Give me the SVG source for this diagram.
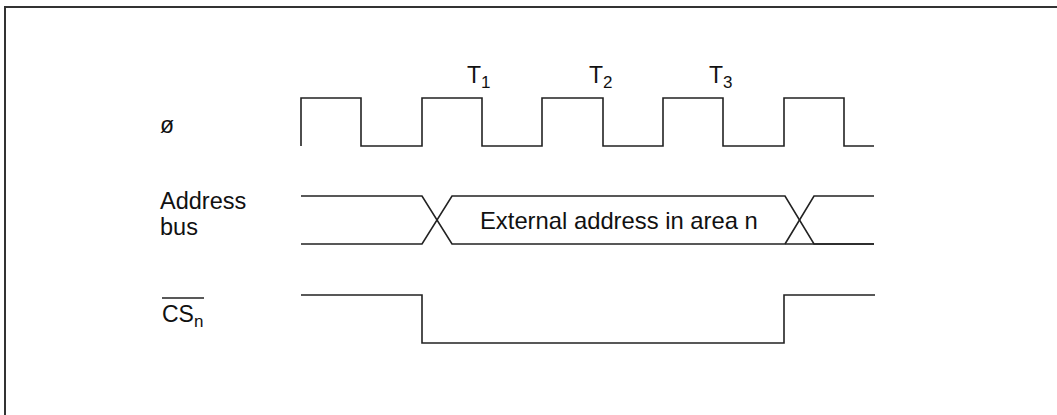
<svg xmlns="http://www.w3.org/2000/svg" width="1057" height="415" viewBox="0 0 1057 415">
<style>
.sig{fill:none;stroke:#222;stroke-width:1.6;stroke-linejoin:miter}
.t{font-family:"Liberation Sans",Arial,sans-serif;font-size:23px;fill:#111}
.s{font-size:17px}
</style>
<rect x="0" y="0" width="1057" height="415" fill="#fff"/>
<rect x="5" y="7" width="1100" height="500" fill="none" stroke="#333" stroke-width="2"/>
<g id="labels">
<text class="t" x="160" y="133">ø</text>
<text class="t" x="160" y="209" style="font-size:23.5px">Address</text>
<text class="t" x="160" y="235" style="font-size:23.5px">bus</text>
<text class="t" x="162" y="322">CS<tspan class="s" dy="5">n</tspan></text>
<line x1="162" y1="298" x2="204" y2="298" stroke="#222" stroke-width="1.3"/>
<text class="t" x="467" y="83">T<tspan class="s" dy="5">1</tspan></text>
<text class="t" x="589" y="83">T<tspan class="s" dy="5">2</tspan></text>
<text class="t" x="709" y="83">T<tspan class="s" dy="5">3</tspan></text>
</g>
<g id="connectors">
<path id="clock" class="sig" d="M301,146 V98 H361 V146 H422 V98 H482 V146 H542 V98 H603 V146 H663 V98 H723 V146 H784 V98 H844 V146 H874"/>
<path id="addr-top" class="sig" d="M301,196 H422 L452,244 H874"/>
<path id="addr-bot" class="sig" d="M301,244 H422 L452,196 H785 L814,244 H874"/>
<path id="addr-fix" class="sig" d="M785,244 L814,196 H874"/>
<path id="cs" class="sig" d="M301,295 H422 V343 H784 V295 H875"/>
</g>
<text class="t" x="480" y="229" style="font-size:23.8px">External address in area n</text>
</svg>
